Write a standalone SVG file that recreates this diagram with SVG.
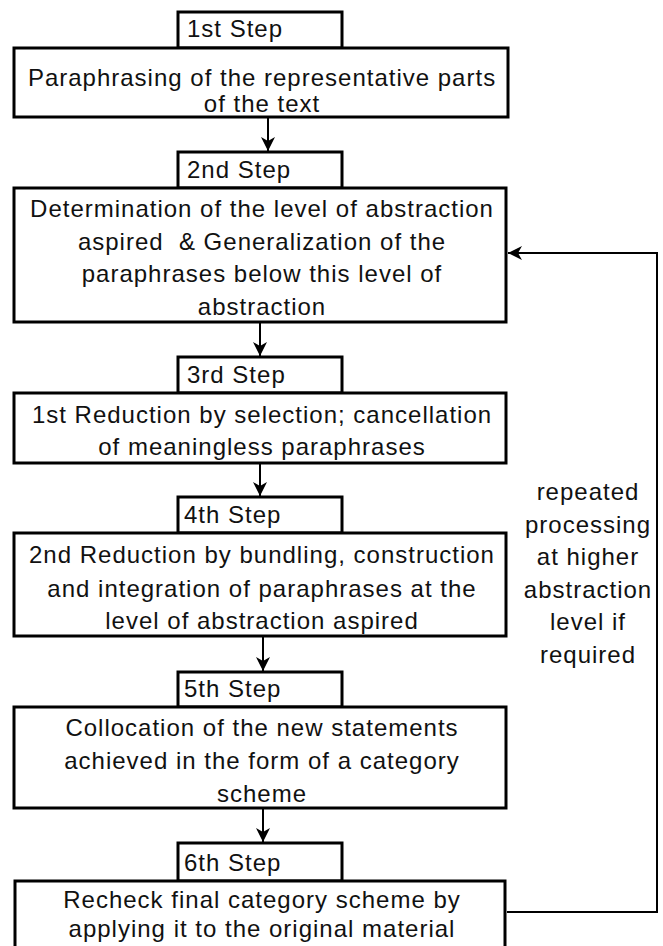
<svg xmlns="http://www.w3.org/2000/svg" width="663" height="946" viewBox="0 0 663 946">
<style>
.box{fill:#fff;stroke:#000;stroke-width:3}
.t{font-family:"Liberation Sans",Arial,sans-serif;font-size:24px;letter-spacing:1px;fill:#111;white-space:pre}
.c{text-anchor:middle}
.con{fill:none;stroke:#000;stroke-width:2}
</style>
<defs>
<marker id="ah" viewBox="0 0 14 14" refX="14" refY="7" markerWidth="14" markerHeight="14" markerUnits="userSpaceOnUse" orient="auto">
<path d="M0,0 L14,7 L0,14 L4,7 Z" fill="#000"/>
</marker>
</defs>
<rect width="663" height="946" fill="#fff"/>
<g id="connectors">
<line class="con" x1="268" y1="117" x2="268" y2="151" marker-end="url(#ah)"/>
<line class="con" x1="260" y1="322" x2="260" y2="356" marker-end="url(#ah)"/>
<line class="con" x1="260" y1="463" x2="260" y2="496" marker-end="url(#ah)"/>
<line class="con" x1="263" y1="636" x2="263" y2="671" marker-end="url(#ah)"/>
<line class="con" x1="263" y1="808" x2="263" y2="842" marker-end="url(#ah)"/>
<polyline class="con" stroke-width="3" points="507,912 657,912 657,253 508,253" marker-end="url(#ah)"/>
</g>
<g id="step1">
<rect class="box" x="178" y="12" width="164" height="36"/>
<text class="t" x="187" y="37">1st Step</text>
<rect class="box" x="14" y="48" width="494" height="69"/>
<text class="t c" x="262" y="86">Paraphrasing of the representative parts</text>
<text class="t c" x="262" y="112">of the text</text>
</g>
<g id="step2">
<rect class="box" x="178" y="152" width="164" height="36"/>
<text class="t" x="187" y="178">2nd Step</text>
<rect class="box" x="14" y="188" width="492" height="134"/>
<text class="t c" x="262" y="217">Determination of the level of abstraction</text>
<text class="t c" x="262" y="250">aspired  &amp; Generalization of the</text>
<text class="t c" x="262" y="282">paraphrases below this level of</text>
<text class="t c" x="262" y="315">abstraction</text>
</g>
<g id="step3">
<rect class="box" x="178" y="357" width="164" height="36"/>
<text class="t" x="187" y="383">3rd Step</text>
<rect class="box" x="14" y="393" width="492" height="70"/>
<text class="t c" x="262" y="423">1st Reduction by selection; cancellation</text>
<text class="t c" x="262" y="455">of meaningless paraphrases</text>
</g>
<g id="step4">
<rect class="box" x="178" y="497" width="164" height="36"/>
<text class="t" x="184" y="523">4th Step</text>
<rect class="box" x="14" y="533" width="492" height="103"/>
<text class="t c" x="262" y="563">2nd Reduction by bundling, construction</text>
<text class="t c" x="262" y="597">and integration of paraphrases at the</text>
<text class="t c" x="262" y="629">level of abstraction aspired</text>
</g>
<g id="step5">
<rect class="box" x="178" y="672" width="164" height="35"/>
<text class="t" x="184" y="697">5th Step</text>
<rect class="box" x="14" y="707" width="492" height="101"/>
<text class="t c" x="262" y="736">Collocation of the new statements</text>
<text class="t c" x="262" y="769">achieved in the form of a category</text>
<text class="t c" x="262" y="802">scheme</text>
</g>
<g id="step6">
<rect class="box" x="178" y="843" width="164" height="38"/>
<text class="t" x="184" y="871">6th Step</text>
<rect class="box" x="15" y="881" width="490" height="80"/>
<text class="t c" x="262" y="908">Recheck final category scheme by</text>
<text class="t c" x="262" y="937">applying it to the original material</text>
</g>
<g id="feedback-label">
<text class="t c" x="588" y="500">repeated</text>
<text class="t c" x="588" y="533">processing</text>
<text class="t c" x="588" y="565">at higher</text>
<text class="t c" x="588" y="598">abstraction</text>
<text class="t c" x="588" y="630">level if</text>
<text class="t c" x="588" y="663">required</text>
</g>
</svg>
